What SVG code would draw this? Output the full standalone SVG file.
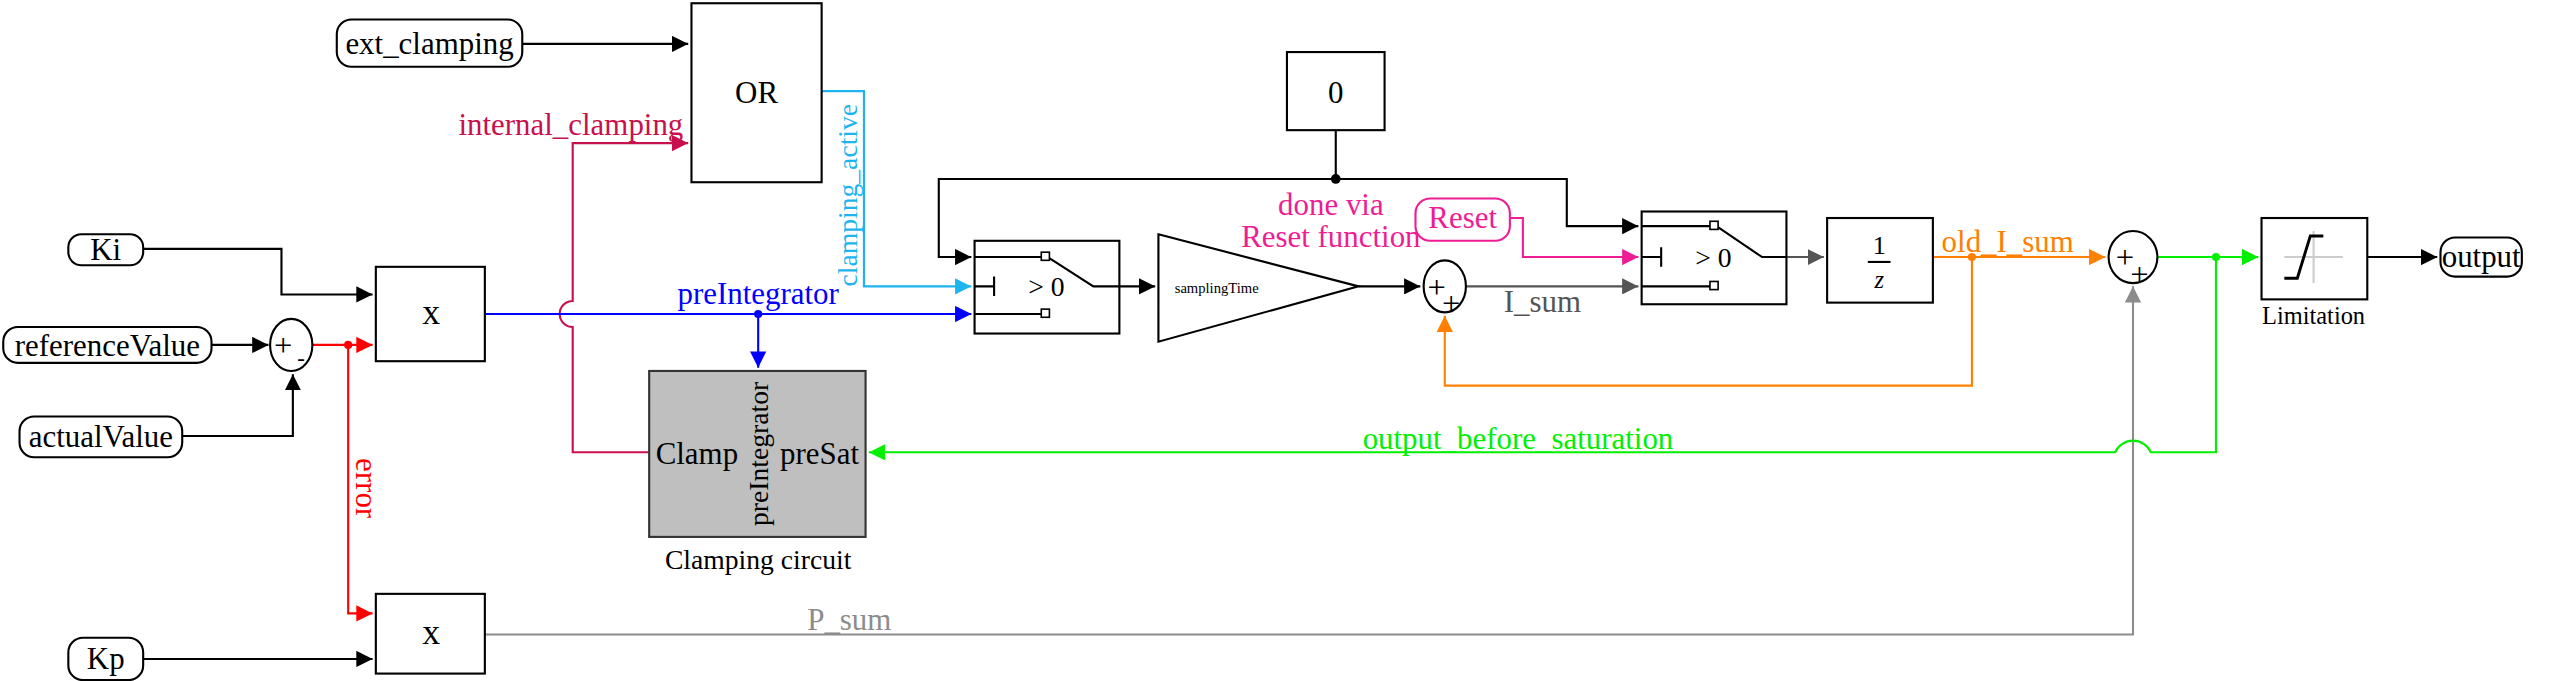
<svg xmlns="http://www.w3.org/2000/svg" width="2551" height="681" viewBox="0 0 2551 681">
<defs>
<style>
text{font-family:"Liberation Serif","DejaVu Serif",serif;font-size:19px;fill:#000}
.n{fill:#fff;stroke:#000;stroke-width:1.3}
.w{fill:none;stroke-width:1.3}
.k{stroke:#000}.r{stroke:#f00}.b{stroke:#00f}.c{stroke:#1eb4f0}.m{stroke:#c8104d}.p{stroke:#ee1d94}.o{stroke:#ff8000}.g{stroke:#00f000}.gy{stroke:#8c8c8c}.dg{stroke:#555}
.t{text-anchor:middle}
</style>
<marker id="ak" viewBox="0 0 10 10" refX="10" refY="5" markerWidth="10" markerHeight="10" markerUnits="userSpaceOnUse" orient="auto"><path d="M0,0L10,5L0,10z" fill="#000"/></marker>
<marker id="ar" viewBox="0 0 10 10" refX="10" refY="5" markerWidth="10" markerHeight="10" markerUnits="userSpaceOnUse" orient="auto"><path d="M0,0L10,5L0,10z" fill="#f00"/></marker>
<marker id="ab" viewBox="0 0 10 10" refX="10" refY="5" markerWidth="10" markerHeight="10" markerUnits="userSpaceOnUse" orient="auto"><path d="M0,0L10,5L0,10z" fill="#00f"/></marker>
<marker id="ac" viewBox="0 0 10 10" refX="10" refY="5" markerWidth="10" markerHeight="10" markerUnits="userSpaceOnUse" orient="auto"><path d="M0,0L10,5L0,10z" fill="#1eb4f0"/></marker>
<marker id="am" viewBox="0 0 10 10" refX="10" refY="5" markerWidth="10" markerHeight="10" markerUnits="userSpaceOnUse" orient="auto"><path d="M0,0L10,5L0,10z" fill="#c8104d"/></marker>
<marker id="ap" viewBox="0 0 10 10" refX="10" refY="5" markerWidth="10" markerHeight="10" markerUnits="userSpaceOnUse" orient="auto"><path d="M0,0L10,5L0,10z" fill="#ee1d94"/></marker>
<marker id="ao" viewBox="0 0 10 10" refX="10" refY="5" markerWidth="10" markerHeight="10" markerUnits="userSpaceOnUse" orient="auto"><path d="M0,0L10,5L0,10z" fill="#ff8000"/></marker>
<marker id="ag" viewBox="0 0 10 10" refX="10" refY="5" markerWidth="10" markerHeight="10" markerUnits="userSpaceOnUse" orient="auto"><path d="M0,0L10,5L0,10z" fill="#00f000"/></marker>
<marker id="agy" viewBox="0 0 10 10" refX="10" refY="5" markerWidth="10" markerHeight="10" markerUnits="userSpaceOnUse" orient="auto"><path d="M0,0L10,5L0,10z" fill="#8c8c8c"/></marker>
<marker id="adg" viewBox="0 0 10 10" refX="10" refY="5" markerWidth="10" markerHeight="10" markerUnits="userSpaceOnUse" orient="auto"><path d="M0,0L10,5L0,10z" fill="#555"/></marker>
</defs>
<rect width="2551" height="681" fill="#fff"/>
<g transform="scale(1.627)">
<g id="connectors">
<path class="w k" d="M321,27H423" marker-end="url(#ak)"/>
<path class="w k" d="M88,153H173V181H229" marker-end="url(#ak)"/>
<path class="w k" d="M130,212H165" marker-end="url(#ak)"/>
<path class="w k" d="M112,268H180V230" marker-end="url(#ak)"/>
<path class="w k" d="M88,405H229" marker-end="url(#ak)"/>
<path class="w r" d="M192,212H229" marker-end="url(#ar)"/>
<path class="w r" d="M214,212V377H229" marker-end="url(#ar)"/>
<circle cx="214" cy="212" r="2.5" fill="#f00"/>
<path class="w m" d="M399,278H352V201A8,8 0 0 1 352,185V88H423" marker-end="url(#am)"/>
<path class="w c" d="M505,56H531V176H597" marker-end="url(#ac)"/>
<path class="w b" d="M298,193H597" marker-end="url(#ab)"/>
<path class="w b" d="M466,193V226" marker-end="url(#ab)"/>
<circle cx="466" cy="193" r="2.5" fill="#00f"/>
<path class="w k" d="M821,80V110"/>
<path class="w k" d="M821,110H577V158H597" marker-end="url(#ak)"/>
<path class="w k" d="M821,110H963V139H1007" marker-end="url(#ak)"/>
<circle cx="821" cy="110" r="3" fill="#000"/>
<path class="w k" d="M688,176H710" marker-end="url(#ak)"/>
<path class="w k" d="M835,176H873" marker-end="url(#ak)"/>
<path class="w p" d="M928,134H936V158H1007" marker-end="url(#ap)"/>
<path class="w dg" d="M901,176H1007" marker-end="url(#adg)"/>
<path class="w dg" d="M1098,158H1121" marker-end="url(#adg)"/>
<path class="w o" d="M1188,158H1294" marker-end="url(#ao)"/>
<path class="w o" d="M1212,158V237H888V194" marker-end="url(#ao)"/>
<circle cx="1212" cy="158" r="2.5" fill="#ff8000"/>
<path class="w gy" d="M298,390H1311V176" marker-end="url(#agy)"/>
<path class="w g" d="M1326,158H1388" marker-end="url(#ag)"/>
<path class="w g" d="M1362,158V278H1322A12,12 0 0 0 1300,278H534" marker-end="url(#ag)"/>
<circle cx="1362" cy="158" r="2.5" fill="#00f000"/>
<path class="w k" d="M1455,158H1498" marker-end="url(#ak)"/>
</g>

<g id="labels">
<text x="420" y="83" text-anchor="end" style="fill:#c8104d">internal_clamping</text>
<text transform="translate(527,120) rotate(-90)" class="t" style="fill:#1eb4f0;font-size:17px">clamping_active</text>
<text x="466" y="187" class="t" style="fill:#00f">preIntegrator</text>
<text transform="translate(219,300) rotate(90)" class="t" style="fill:#f00">error</text>
<text x="522" y="387" class="t" style="fill:#8c8c8c">P_sum</text>
<text x="818" y="132" class="t" style="fill:#ee1d94">done via</text>
<text x="818" y="152" class="t" style="fill:#ee1d94">Reset function</text>
<text x="948" y="192" class="t" style="fill:#555">I_sum</text>
<text x="1234" y="155" class="t" style="fill:#ff8000">old_I_sum</text>
<text x="933" y="276" class="t" style="fill:#00f000">output_before_saturation</text>
</g>

<g id="ext_clamping"><rect class="n" x="207" y="12" width="114" height="29" rx="9"/><text x="264" y="33" class="t">ext_clamping</text></g>
<g id="OR"><rect class="n" x="425" y="2" width="80" height="110"/><text x="465" y="63" class="t">OR</text></g>
<g id="Ki"><rect class="n" x="42" y="144" width="46" height="19" rx="8"/><text x="65" y="160" class="t">Ki</text></g>
<g id="referenceValue"><rect class="n" x="2" y="201" width="128" height="22" rx="9"/><text x="66" y="219" class="t">referenceValue</text></g>
<g id="actualValue"><rect class="n" x="12" y="256" width="100" height="25" rx="9"/><text x="62" y="275" class="t">actualValue</text></g>
<g id="Kp"><rect class="n" x="42" y="392" width="46" height="26" rx="9"/><text x="65" y="411" class="t">Kp</text></g>
<g id="sum1"><ellipse class="n" cx="179" cy="212" rx="13" ry="16"/><text x="174" y="219" class="t" style="font-size:20px">+</text><text x="185" y="225" class="t" style="font-size:14px">-</text></g>
<g id="mult1"><rect class="n" x="231" y="164" width="67" height="58"/><text x="265" y="199" class="t" style="font-size:22px">x</text></g>
<g id="mult2"><rect class="n" x="231" y="365" width="67" height="49"/><text x="265" y="396" class="t" style="font-size:22px">x</text></g>
<g id="clamping"><rect x="399" y="228" width="133" height="102" fill="#bfbfbf" stroke="#333" stroke-width="1.3"/><text x="403" y="285">Clamp</text><text x="528" y="285" text-anchor="end">preSat</text><text transform="translate(472,279) rotate(-90)" class="t" style="font-size:17px">preIntegrator</text><text x="466" y="350" class="t" style="font-size:17px">Clamping circuit</text></g>
<g id="switch1"><rect class="n" x="599" y="148" width="89" height="57"/>
<path class="w k" d="M599,158H640M599,176H611M611,170V182M599,193H640M644,158L672,176H688"/>
<rect x="640" y="155" width="5" height="5" fill="#fff" stroke="#000"/><rect x="640" y="190" width="5" height="5" fill="#fff" stroke="#000"/>
<text x="632" y="182" style="font-size:17px">&gt; 0</text></g>
<g id="gain"><path class="n" d="M712,144L835,176L712,210Z"/><text x="722" y="180" style="font-size:9px">samplingTime</text></g>
<g id="sum2"><ellipse class="n" cx="888" cy="176" rx="13" ry="16"/><text x="883" y="183" class="t" style="font-size:20px">+</text><text x="892" y="193" class="t" style="font-size:20px">+</text></g>
<g id="zero"><rect class="n" x="791" y="32" width="60" height="48"/><text x="821" y="63" class="t">0</text></g>
<g id="Reset"><rect x="870" y="122" width="58" height="26" rx="9" fill="#fff" stroke="#ee1d94" stroke-width="1.3"/><text x="899" y="140" class="t" style="fill:#ee1d94">Reset</text></g>
<g id="switch2"><rect class="n" x="1009" y="130" width="89" height="57"/>
<path class="w k" d="M1009,139H1051M1009,158H1021M1021,152V164M1009,176H1051M1055,139L1083,158H1098"/>
<rect x="1051" y="136" width="5" height="5" fill="#fff" stroke="#000"/><rect x="1051" y="173" width="5" height="5" fill="#fff" stroke="#000"/>
<text x="1042" y="164" style="font-size:17px">&gt; 0</text></g>
<g id="delay"><rect class="n" x="1123" y="134" width="65" height="52"/><text x="1155" y="156" class="t" style="font-size:16px">1</text><path d="M1148,161H1162" stroke="#000" stroke-width="1.3"/><text x="1155" y="177" class="t" style="font-size:15px;font-style:italic">z</text></g>
<g id="sum3"><ellipse class="n" cx="1311" cy="158" rx="15" ry="16"/><text x="1306" y="165" class="t" style="font-size:20px">+</text><text x="1315" y="175" class="t" style="font-size:20px">+</text></g>
<g id="Limitation"><rect class="n" x="1390" y="134" width="65" height="50"/><path d="M1404,158H1440M1422,142V174" stroke="#ccc" stroke-width="1.3"/><path d="M1404,171H1412L1420,145H1428" fill="none" stroke="#000" stroke-width="1.8"/><text x="1422" y="199" class="t" style="font-size:15px">Limitation</text></g>
<g id="output"><rect class="n" x="1500" y="146" width="50" height="24" rx="9"/><text x="1525" y="164" class="t">output</text></g>
</g>
</svg>
